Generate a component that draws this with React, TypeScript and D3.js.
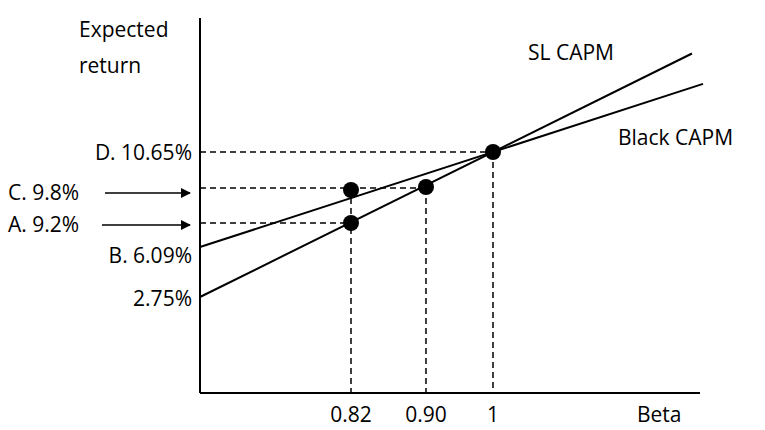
import React from 'react';
import * as d3 from 'd3';

// schematic scales (the picture is not to scale)
const betaTicks = [0.82, 0.9, 1];
const betaTickLabels = ['0.82', '0.90', '1'];

// points on the lines: [beta, return]
const slPoints: [number, number][] = [[0, 2.75], [0.82, 9.2], [0.9, 9.8], [1, 10.65]];
const blackPoints: [number, number][] = [[0, 6.09], [0.82, 9.8], [1, 10.65]];
const dots: [number, number][] = [[0.82, 9.8], [0.82, 9.2], [0.9, 9.8], [1, 10.65]];

const x = d3.scaleLinear().domain([0, 0.82, 0.9, 1]).range([200, 351, 426, 493]);
const y = d3.scaleLinear().domain([0, 2.75, 6.09, 9.2, 9.8, 10.65]).range([393, 297, 247, 223, 190, 152]);

const font = '"Open Sans", sans-serif';

function extLine(p0: [number, number], p1: [number, number], xEnd: number) {
  const x0 = x(p0[0]), y0 = y(p0[1]), x1 = x(p1[0]), y1 = y(p1[1]);
  const s = (y1 - y0) / (x1 - x0);
  return { x1: x0, y1: y0, x2: xEnd, y2: y0 + s * (xEnd - x0) };
}

export default function App() {
  const sl = extLine(slPoints[0], slPoints[slPoints.length - 1], 692);
  const bl = extLine(blackPoints[0], blackPoints[blackPoints.length - 1], 703);
  const dash = { stroke: '#000', strokeWidth: 1.5, strokeDasharray: '6,4' };
  return (
    <svg width={765} height={430} style={{ position: 'absolute', left: 0, top: 0, fontFamily: font }}>
      <defs>
        <marker id="ar" viewBox="0 0 10 10" refX="9" refY="5" markerWidth="10" markerHeight="10" orient="auto" markerUnits="userSpaceOnUse">
          <path d="M0,0 L10,5 L0,10 z" fill="#000" />
        </marker>
      </defs>
      <rect width={765} height={430} fill="#fff" />
      <line x1={200} y1={18} x2={200} y2={393} stroke="#000" strokeWidth={2} />
      <line x1={200} y1={393} x2={700} y2={393} stroke="#000" strokeWidth={2} />
      <line x1={200} x2={x(1)} y1={y(10.65)} y2={y(10.65)} {...dash} />
      <line x1={200} x2={x(0.9)} y1={y(9.8) - 2} y2={y(9.8) - 2} {...dash} />
      <line x1={200} x2={x(0.82)} y1={y(9.2)} y2={y(9.2)} {...dash} />
      {betaTicks.map((b, i) => (
        <line key={i} x1={x(b)} x2={x(b)} y1={b === 1 ? y(10.65) : y(9.8) - 2} y2={393} {...dash} />
      ))}
      <line {...sl} stroke="#000" strokeWidth={2} />
      <line {...bl} stroke="#000" strokeWidth={2} />
      {dots.map((d, i) => (
        <circle key={i} cx={x(d[0])} cy={d[0] === 0.9 ? y(d[1]) - 3 : y(d[1])} r={8} fill="#000" />
      ))}
      <g fontSize={21} fill="#000">
        <text x={79} y={37}>Expected</text>
        <text x={79} y={73}>return</text>
        <text x={528} y={60}>SL CAPM</text>
        <text x={618} y={145}>Black CAPM</text>
        <text x={192} y={y(10.65) + 8} textAnchor="end">D. 10.65%</text>
        <text x={8} y={y(9.8) + 10}>C. 9.8%</text>
        <text x={8} y={y(9.2) + 9}>A. 9.2%</text>
        <text x={192} y={y(6.09) + 16} textAnchor="end">B. 6.09%</text>
        <text x={192} y={y(2.75) + 9} textAnchor="end">2.75%</text>
        {betaTicks.map((b, i) => (
          <text key={i} x={x(b)} y={422} textAnchor="middle">{betaTickLabels[i]}</text>
        ))}
        <text x={637} y={422}>Beta</text>
      </g>
      <line x1={105} y1={y(9.8) + 3} x2={190} y2={y(9.8) + 3} stroke="#000" strokeWidth={1.5} markerEnd="url(#ar)" />
      <line x1={102} y1={y(9.2) + 2} x2={190} y2={y(9.2) + 2} stroke="#000" strokeWidth={1.5} markerEnd="url(#ar)" />
    </svg>
  );
}
